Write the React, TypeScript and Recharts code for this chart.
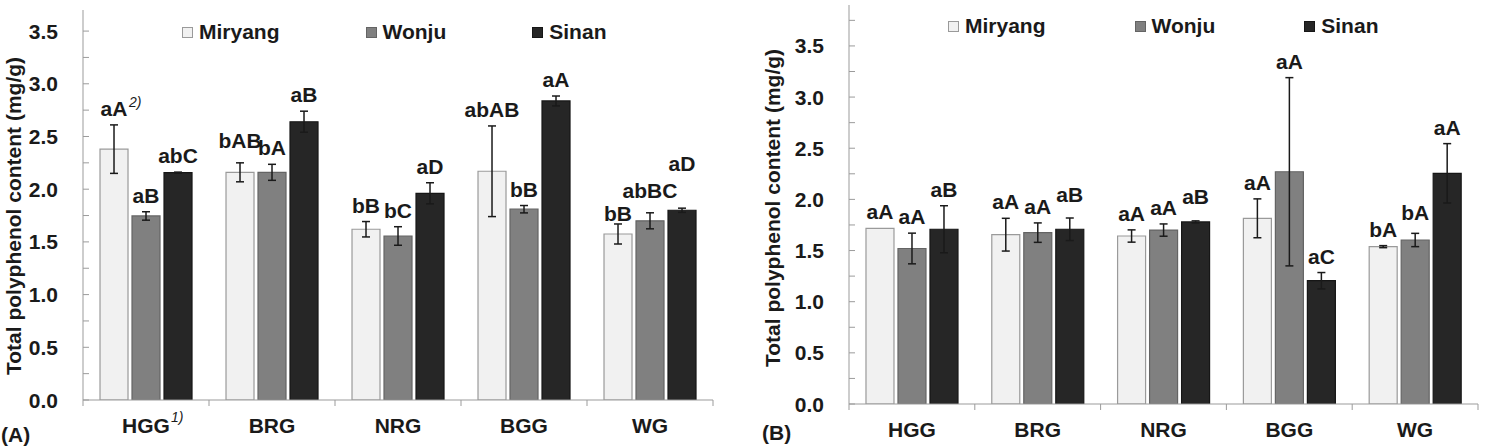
import React from 'react';
import { BarChart, Bar, XAxis, YAxis, ErrorBar, LabelList, Legend } from 'recharts';

const CATEGORIES = ['HGG', 'BRG', 'NRG', 'BGG', 'WG'];
const CATEGORY_NOTES_A = ['1)', '', '', '', ''];
const CATEGORY_NOTES_B = ['', '', '', '', ''];
const SERIES = ['Miryang', 'Wonju', 'Sinan'];
const Y_TITLE = 'Total polyphenol content (mg/g)';
const Y_MINOR_A = [0, 0.25, 0.5, 0.75, 1, 1.25, 1.5, 1.75, 2, 2.25, 2.5, 2.75, 3, 3.25, 3.5];
const Y_MINOR_B = [...Y_MINOR_A, 3.75];

// (A) mean and SD per region
const A_MIRYANG = [2.38, 2.16, 1.62, 2.17, 1.575];
const A_MIRYANG_SD = [0.23, 0.09, 0.073, 0.43, 0.095];
const A_WONJU = [1.746, 2.16, 1.556, 1.81, 1.7];
const A_WONJU_SD = [0.04, 0.076, 0.088, 0.035, 0.076];
const A_SINAN = [2.157, 2.64, 1.961, 2.837, 1.8];
const A_SINAN_SD = [0.005, 0.1, 0.1, 0.047, 0.02];
const A_MIRYANG_LETTERS = ['aA', 'bAB', 'bB', 'abAB', 'bB'];
const A_WONJU_LETTERS = ['aB', 'bA', 'bC', 'bB', 'abBC'];
const A_SINAN_LETTERS = ['abC', 'aB', 'aD', 'aA', 'aD'];
const A_MIRYANG_NOTES = ['2)', '', '', '', ''];

// (B) mean and SD per region
const B_MIRYANG = [1.717, 1.655, 1.642, 1.815, 1.538];
const B_MIRYANG_SD = [0, 0.16, 0.06, 0.19, 0.01];
const B_WONJU = [1.52, 1.675, 1.7, 2.27, 1.603];
const B_WONJU_SD = [0.15, 0.095, 0.06, 0.92, 0.065];
const B_SINAN = [1.708, 1.708, 1.78, 1.205, 2.255];
const B_SINAN_SD = [0.23, 0.11, 0.01, 0.08, 0.29];
const B_MIRYANG_LETTERS = ['aA', 'aA', 'aA', 'aA', 'bA'];
const B_WONJU_LETTERS = ['aA', 'aA', 'aA', 'aA', 'bA'];
const B_SINAN_LETTERS = ['aB', 'aB', 'aB', 'aC', 'aA'];
const NO_NOTES = ['', '', '', '', ''];

const FONT = '"Liberation Sans", Arial, Helvetica, sans-serif';
const FS = 21;
const TEXT = '#1a1a1a';
const FRAME = '#9b9b9b';
const FILLS = ['#f1f1f1', '#808080', '#262626'];
const STROKES = ['#9a9a9a', '#646464', '#161616'];

// extra lift (px) for letters that sit higher or lower to clear their neighbours
const LIFT: Record<string, number> = {
  'A-0-4': -6,
  'A-1-4': 6,
  'A-2-4': 28,
  'A-0-1': 6,
  'B-2-1': 7,
  'B-2-2': 8,
  'B-1-4': 4,
};

type SeriesDef = { values: number[]; sd: number[]; letters: string[]; notes: string[] };

const buildRows = (series: SeriesDef[]) =>
  CATEGORIES.map((cat, i) => {
    const row: Record<string, number | string> = { cat };
    series.forEach((s, k) => {
      row[`v${k}`] = s.values[i];
      row[`e${k}`] = s.sd[i];
    });
    return row;
  });

const letterContent = (panel: string, k: number, s: SeriesDef) => (props: any) => {
  const { x, y, width, height, index } = props;
  const v = s.values[index];
  const pxPerUnit = v ? Number(height) / v : 0;
  const errTop = Number(y) - s.sd[index] * pxPerUnit;
  const cx = Number(x) + Number(width) / 2;
  const base = errTop - 9 - (LIFT[`${panel}-${k}-${index}`] ?? 0);
  const note = s.notes[index];
  return (
    <g>
      <text x={cx} y={base} textAnchor="middle" fontFamily={FONT} fontWeight={700} fontSize={FS} fill={TEXT}>
        {s.letters[index]}
      </text>
      {note && (
        <text x={cx + 15} y={base - 9} fontFamily={FONT} fontStyle="italic" fontSize={14} fill={TEXT}>
          {note}
        </text>
      )}
    </g>
  );
};

const yTick = (props: any) => {
  const { x, y, payload } = props;
  const v = payload.value as number;
  const axisX = Number(x) + 25;
  const major = Math.abs(v * 2 - Math.round(v * 2)) < 1e-6;
  return (
    <g>
      <line x1={axisX} x2={axisX + 6} y1={y} y2={y} stroke={FRAME} strokeWidth={1} />
      {major && (
        <text x={x} y={y} dy={7.5} textAnchor="end" fontFamily={FONT} fontWeight={700} fontSize={FS} fill={TEXT}>
          {v.toFixed(1)}
        </text>
      )}
    </g>
  );
};

const xTick = (band: number, notes: string[]) => (props: any) => {
  const { x, y, payload, index } = props;
  const note = notes[index];
  return (
    <g>
      <line x1={x - band / 2} x2={x - band / 2} y1={y} y2={y + 6} stroke={FRAME} />
      {index === CATEGORIES.length - 1 && (
        <line x1={x + band / 2} x2={x + band / 2} y1={y} y2={y + 6} stroke={FRAME} />
      )}
      <text x={x} y={y + 33} textAnchor="middle" fontFamily={FONT} fontWeight={700} fontSize={FS} fill={TEXT}>
        {payload.value}
      </text>
      {note && (
        <text x={x + 25} y={y + 22} fontFamily={FONT} fontStyle="italic" fontSize={14} fill={TEXT}>
          {note}
        </text>
      )}
    </g>
  );
};

const legendContent = (gap: number) => () => (
  <div style={{ display: 'flex', alignItems: 'center', gap, lineHeight: '24px' }}>
    {SERIES.map((name, i) => (
      <div key={name} style={{ display: 'flex', alignItems: 'center' }}>
        <span
          style={{
            display: 'inline-block',
            width: 9,
            height: 9,
            background: FILLS[i],
            border: `1px solid ${STROKES[i]}`,
            marginRight: 6,
          }}
        />
        <span style={{ fontFamily: FONT, fontWeight: 700, fontSize: FS, color: TEXT }}>{name}</span>
      </div>
    ))}
  </div>
);

type PanelProps = {
  id: string;
  tag: string;
  width: number;
  plot: { left: number; top: number; right: number; bottom: number };
  yMax: number;
  minorTicks: number[];
  series: SeriesDef[];
  categoryNotes: string[];
  legend: { left: number; top: number; gap: number };
  title: { x: number; y: number };
  tagPos: { x: number; y: number };
};

function Panel({ id, tag, width, plot, yMax, minorTicks, series, categoryNotes, legend, title, tagPos }: PanelProps) {
  const height = 446;
  const rows = buildRows(series);
  const band = (width - plot.left - plot.right) / CATEGORIES.length;
  return (
    <BarChart
      width={width}
      height={height}
      data={rows}
      margin={{ top: plot.top, right: plot.right, bottom: 0, left: 0 }}
      barCategoryGap="13.5%"
      barGap={4}
    >
      <XAxis
        dataKey="cat"
        height={height - plot.bottom}
        interval={0}
        tickSize={0}
        tickMargin={0}
        tickLine={false}
        axisLine={{ stroke: FRAME }}
        tick={xTick(band, categoryNotes)}
      />
      <XAxis xAxisId="frame" orientation="top" dataKey="cat" height={0} tick={false} tickLine={false} axisLine={{ stroke: FRAME }} />
      <YAxis
        width={plot.left}
        domain={[0, yMax]}
        ticks={minorTicks}
        interval={0}
        allowDataOverflow
        tickSize={0}
        tickMargin={25}
        tickLine={false}
        axisLine={{ stroke: FRAME }}
        tick={yTick}
      />
      <YAxis
        yAxisId="frame"
        orientation="right"
        width={0}
        domain={[0, yMax]}
        tick={false}
        tickLine={false}
        axisLine={{ stroke: FRAME }}
      />
      <Legend
        layout="horizontal"
        verticalAlign="middle"
        content={legendContent(legend.gap)}
        wrapperStyle={{ left: legend.left, top: legend.top, width: 'auto', height: 'auto' }}
      />
      {series.map((s, k) => (
        <Bar
          key={SERIES[k]}
          dataKey={`v${k}`}
          name={SERIES[k]}
          fill={FILLS[k]}
          stroke={STROKES[k]}
          strokeWidth={1.2}
          isAnimationActive={false}
        >
          <ErrorBar dataKey={`e${k}`} width={4} stroke="#1a1a1a" strokeWidth={1.5} isAnimationActive={false} />
          <LabelList dataKey={`v${k}`} content={letterContent(id, k, s)} />
        </Bar>
      ))}
      <text
        x={title.x}
        y={title.y}
        transform={`rotate(-90, ${title.x}, ${title.y})`}
        textAnchor="middle"
        dominantBaseline="central"
        fontFamily={FONT}
        fontWeight={700}
        fontSize={FS}
        fill={TEXT}
      >
        {Y_TITLE}
      </text>
      <text x={tagPos.x} y={tagPos.y} fontFamily={FONT} fontWeight={700} fontSize={FS} fill={TEXT}>
        {tag}
      </text>
    </BarChart>
  );
}

export default function App() {
  const seriesA: SeriesDef[] = [
    { values: A_MIRYANG, sd: A_MIRYANG_SD, letters: A_MIRYANG_LETTERS, notes: A_MIRYANG_NOTES },
    { values: A_WONJU, sd: A_WONJU_SD, letters: A_WONJU_LETTERS, notes: NO_NOTES },
    { values: A_SINAN, sd: A_SINAN_SD, letters: A_SINAN_LETTERS, notes: NO_NOTES },
  ];
  const seriesB: SeriesDef[] = [
    { values: B_MIRYANG, sd: B_MIRYANG_SD, letters: B_MIRYANG_LETTERS, notes: NO_NOTES },
    { values: B_WONJU, sd: B_WONJU_SD, letters: B_WONJU_LETTERS, notes: NO_NOTES },
    { values: B_SINAN, sd: B_SINAN_SD, letters: B_SINAN_LETTERS, notes: NO_NOTES },
  ];
  return (
    <div style={{ position: 'absolute', left: 0, top: 0, width: 1488, height: 446, background: '#fff', overflow: 'hidden' }}>
      <div style={{ position: 'absolute', left: 0, top: 0 }}>
        <Panel
          id="A"
          tag="(A)"
          width={740}
          plot={{ left: 83, top: 10, right: 27, bottom: 400 }}
          yMax={3.7}
          minorTicks={Y_MINOR_A}
          series={seriesA}
          categoryNotes={CATEGORY_NOTES_A}
          legend={{ left: 182, top: 20, gap: 86 }}
          title={{ x: 13, y: 216 }}
          tagPos={{ x: 1, y: 442 }}
        />
      </div>
      <div style={{ position: 'absolute', left: 740, top: 0 }}>
        <Panel
          id="B"
          tag="(B)"
          width={748}
          plot={{ left: 109, top: 5, right: 10, bottom: 404 }}
          yMax={3.9}
          minorTicks={Y_MINOR_B}
          series={seriesB}
          categoryNotes={CATEGORY_NOTES_B}
          legend={{ left: 208, top: 14, gap: 89 }}
          title={{ x: 32, y: 208 }}
          tagPos={{ x: 22, y: 440 }}
        />
      </div>
    </div>
  );
}
